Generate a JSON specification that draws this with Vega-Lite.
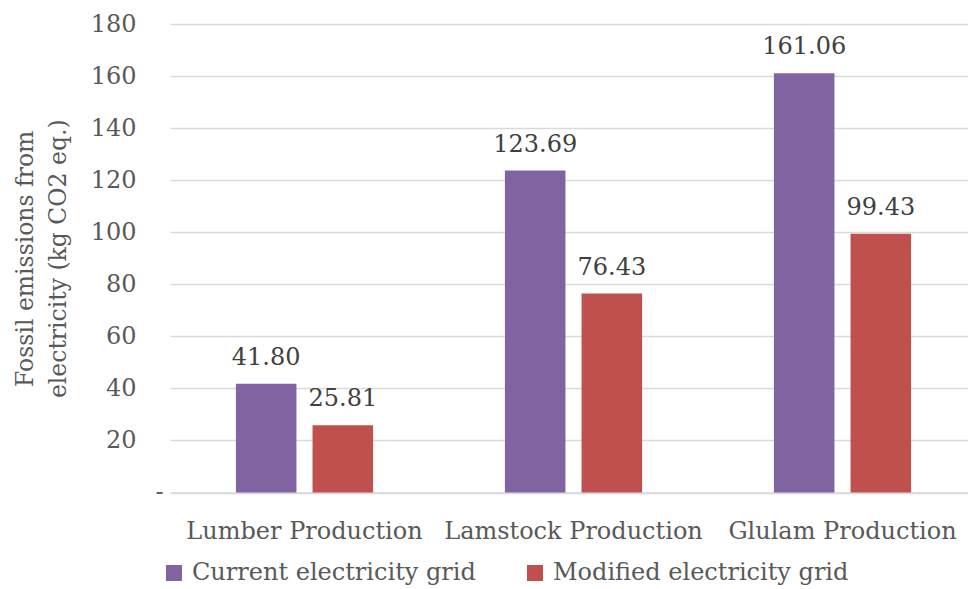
{
  "$schema": "https://vega.github.io/schema/vega-lite/v6.json",
  "autosize": "none",
  "width": 798,
  "height": 468.5,
  "padding": {"left": 170, "top": 24, "right": 0, "bottom": 96.5},
  "background": "white",
  "config": {
    "font": "DejaVu Serif",
    "view": {"stroke": null}
  },
  "data": {
    "values": [
      {"process": "Lumber Production", "grid": "Current electricity grid", "emissions": 41.80},
      {"process": "Lumber Production", "grid": "Modified electricity grid", "emissions": 25.81},
      {"process": "Lamstock Production", "grid": "Current electricity grid", "emissions": 123.69},
      {"process": "Lamstock Production", "grid": "Modified electricity grid", "emissions": 76.43},
      {"process": "Glulam Production", "grid": "Current electricity grid", "emissions": 161.06},
      {"process": "Glulam Production", "grid": "Modified electricity grid", "emissions": 99.43}
    ]
  },
  "encoding": {
    "x": {
      "field": "process",
      "type": "nominal",
      "sort": ["Lumber Production", "Lamstock Production", "Glulam Production"],
      "scale": {"range": [0, 807], "paddingInner": 0.49, "paddingOuter": 0.245},
      "axis": {
        "title": null,
        "labelAngle": 0,
        "labelFont": "DejaVu Serif",
        "labelFontSize": 24,
        "labelColor": "#595959",
        "labelPadding": 27,
        "labelLimit": 400,
        "ticks": false,
        "grid": false,
        "domainColor": "#D9D9D9",
        "domainWidth": 1.5
      }
    },
    "xOffset": {
      "field": "grid",
      "type": "nominal",
      "sort": ["Current electricity grid", "Modified electricity grid"],
      "scale": {"paddingInner": 0.21, "paddingOuter": 0}
    },
    "y": {
      "field": "emissions",
      "type": "quantitative",
      "scale": {"domain": [0, 180], "nice": false},
      "axis": {
        "title": ["Fossil emissions from", "electricity (kg CO2 eq.)"],
        "titleFont": "DejaVu Serif",
        "titleFontSize": 23.5,
        "titleFontWeight": "normal",
        "titleColor": "#595959",
        "titleLineHeight": 33,
        "titlePadding": 20,
        "values": [0, 20, 40, 60, 80, 100, 120, 140, 160, 180],
        "labelExpr": "datum.value === 0 ? '-' : datum.label",
        "labelFont": "DejaVu Serif",
        "labelFontSize": 24,
        "labelColor": "#595959",
        "labelPadding": {"condition": {"test": "datum.value === 0", "value": 7}, "value": 34},
        "ticks": false,
        "domain": false,
        "grid": true,
        "gridColor": "#D9D9D9",
        "gridWidth": 1.5
      }
    }
  },
  "layer": [
    {
      "mark": {"type": "bar"},
      "encoding": {
        "color": {
          "field": "grid",
          "type": "nominal",
          "sort": ["Current electricity grid", "Modified electricity grid"],
          "scale": {"range": ["#8064A2", "#C0504D"]},
          "legend": {
            "title": null,
            "orient": "none",
            "direction": "horizontal",
            "legendX": -8,
            "legendY": 537,
            "padding": 0,
            "symbolType": "square",
            "symbolSize": 256,
            "symbolStrokeWidth": 0,
            "symbolOpacity": 1,
            "labelFont": "DejaVu Serif",
            "labelFontSize": 24,
            "labelColor": "#595959",
            "labelOffset": 6,
            "labelLimit": 400,
            "columnPadding": 47
          }
        }
      }
    },
    {
      "mark": {"type": "text", "baseline": "alphabetic", "dy": -19, "fontSize": 24, "color": "#404040", "font": "DejaVu Serif"},
      "encoding": {
        "text": {"field": "emissions", "type": "quantitative", "format": ".2f"}
      }
    }
  ]
}
